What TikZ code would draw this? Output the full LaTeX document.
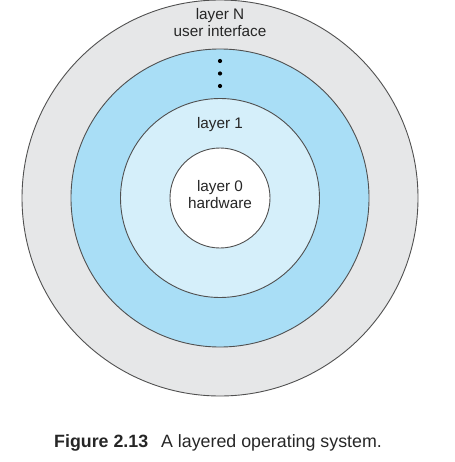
\documentclass[tikz,border=0pt]{standalone}
\usepackage{fontspec}
\setmainfont{Liberation Sans}
\definecolor{outergray}{HTML}{E6E7E8}
\definecolor{midblue}{HTML}{A9DEF6}
\definecolor{lightblue}{HTML}{D5EFFA}
\definecolor{ringline}{HTML}{505050}
\begin{document}
\begin{tikzpicture}[x=1pt,y=1pt,
  ring/.style={circle,draw=ringline,line width=0.9pt,inner sep=0pt},
  lbl/.style={anchor=base,inner sep=0pt,font=\fontsize{15.3}{17}\selectfont,text=black!85},
  dotmark/.style={circle,fill=black,inner sep=0pt,minimum size=4.2pt}]
\useasboundingbox (0,0) rectangle (454,-462);
\node[ring,fill=outergray,minimum size=396pt] (r3) at (220,-198) {};
\node[ring,fill=midblue,minimum size=298pt] (r2) at (220,-198) {};
\node[ring,fill=lightblue,minimum size=199pt] (r1) at (220,-198) {};
\node[ring,fill=white,minimum size=100pt] (r0) at (220,-198) {};
\node[lbl] (ln) at (220,-20) {layer N};
\node[lbl] (ui) at (220,-37) {user interface};
\node[dotmark] (d1) at (220,-61) {};
\node[dotmark] (d2) at (220,-73.5) {};
\node[dotmark] (d3) at (220,-86) {};
\node[lbl] (l1) at (220,-129) {layer 1};
\node[lbl] (l0) at (220,-191) {layer 0};
\node[lbl] (hw) at (220,-208) {hardware};
\node[anchor=base west,inner sep=0pt,font=\fontsize{17.8}{20}\selectfont,text=black!85] (cap) at (54,-447) {\textbf{Figure 2.13}\hspace{13pt}A layered operating system.};
\end{tikzpicture}
\end{document}
